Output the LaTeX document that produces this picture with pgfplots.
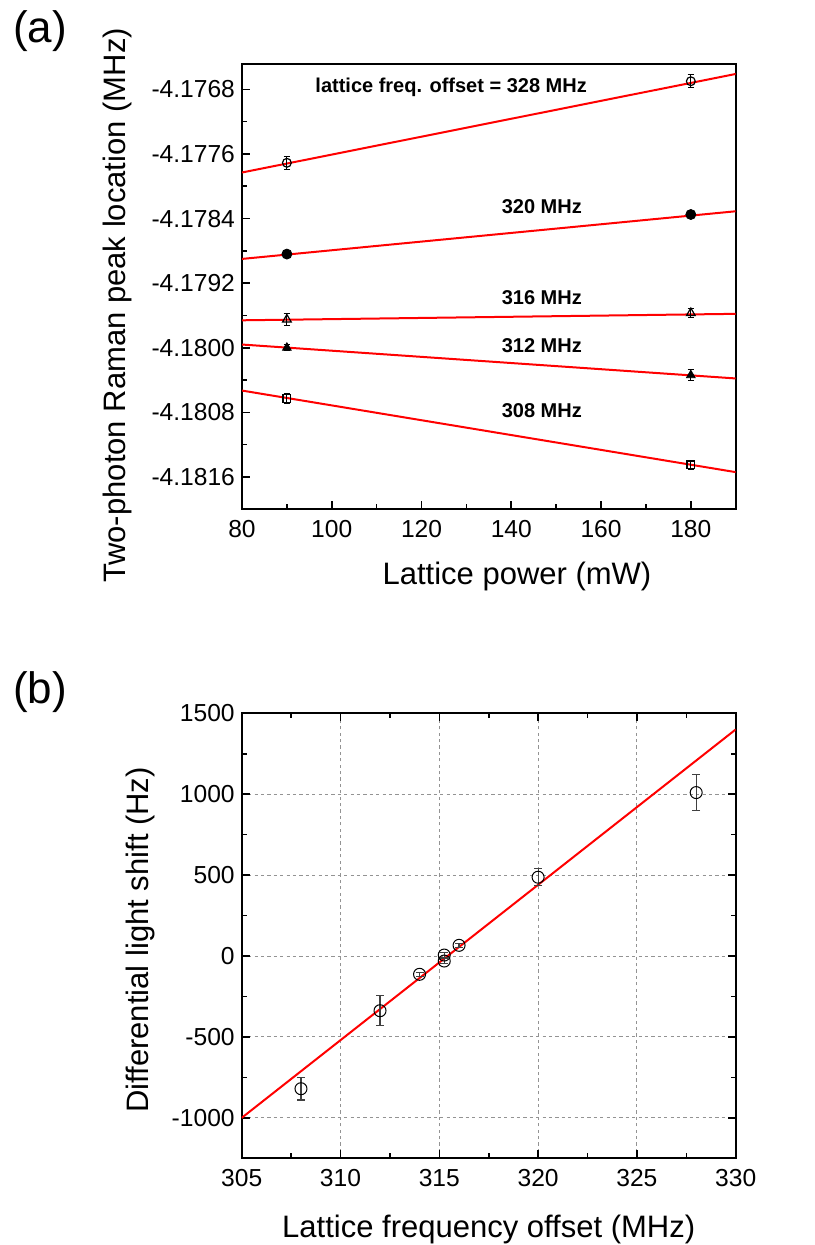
\documentclass[border=0pt]{standalone}
\usepackage{pgfplots}
\pgfplotsset{compat=1.18}
\usepackage{fontspec}
\setmainfont{Liberation Sans}
\begin{document}
\begin{tikzpicture}
\path[use as bounding box] (0,0) rectangle (407pt,622.5pt);
\pgfplotsset{
  myaxis/.style={
    scale only axis,
    axis line style={line width=0.9pt},
    tick align=inside,
    major tick length=4pt,
    minor tick length=2.5pt,
    every tick/.style={black, line width=0.8pt},
    tick label style={font=\fontsize{12.3}{14}\selectfont},
    xticklabel style={yshift=-2pt},
    label style={font=\fontsize{15.5}{18}\selectfont},
  },
  ebar/.style={error bars/.cd, y dir=both, y explicit,
    error bar style={line width=0.5pt, black},
    error mark options={rotate=90, mark size=1.6pt, line width=0.5pt, black}},
}
% ---------------- panel (a) ----------------
\begin{axis}[myaxis,
  at={(121pt,367.85pt)}, anchor=south west,
  width=246.85pt, height=222.5pt,
  xmin=80, xmax=190, ymin=-4.1820, ymax=-4.17649,
  xtick={80,100,120,140,160,180},
  xticklabels={80,100,120,140,160,180},
  minor xtick={90,110,130,150,170},
  ytick={-4.1816,-4.1808,-4.1800,-4.1792,-4.1784,-4.1776,-4.1768},
  yticklabels={-4.1816,-4.1808,-4.1800,-4.1792,-4.1784,-4.1776,-4.1768},
  minor ytick={-4.1812,-4.1804,-4.1796,-4.1788,-4.1780,-4.1772},
  xtick pos=left, ytick pos=left,
  xlabel={Lattice power (mW)},
  ylabel={Two-photon Raman peak location (MHz)},
  xlabel style={at={(axis description cs:0.557,-0.1701)}, anchor=base},
  ylabel style={at={(axis description cs:-0.2532,0.458)}, anchor=center},
]
% fit lines
\addplot[red, line width=1pt] coordinates {(80,-4.17783) (190,-4.17661)};
\addplot[red, line width=1pt] coordinates {(80,-4.17890) (190,-4.17831)};
\addplot[red, line width=1pt] coordinates {(80,-4.17966) (190,-4.17958)};
\addplot[red, line width=1pt] coordinates {(80,-4.17996) (190,-4.18038)};
\addplot[red, line width=1pt] coordinates {(80,-4.18053) (190,-4.18154)};
% data
\addplot[only marks, mark=o, mark size=2.2pt, black, mark options={line width=0.6pt}, ebar]
  coordinates {(90,-4.17771) +- (0,0.00008) (180,-4.17670) +- (0,0.00008)};
\addplot[only marks, mark=*, mark size=2.5pt, black, ebar]
  coordinates {(90,-4.17884) +- (0,0.00002) (180,-4.17835) +- (0,0.00002)};
\addplot[only marks, mark=triangle, mark size=2.5pt, black, mark options={line width=0.6pt}, ebar]
  coordinates {(90,-4.17965) +- (0,0.00007) (180,-4.17957) +- (0,0.00006)};
\addplot[only marks, mark=triangle*, mark size=2.5pt, black, ebar]
  coordinates {(90,-4.18000) +- (0,0.00004) (180,-4.18034) +- (0,0.00007)};
\addplot[only marks, mark=square, mark size=1.9pt, black, mark options={line width=0.6pt}, ebar]
  coordinates {(90,-4.18063) +- (0,0.00006) (180,-4.18145) +- (0,0.00006)};
% annotations
\node[font=\bfseries\fontsize{10}{12}\selectfont] at (axis cs:126.6,-4.17678) {lattice freq. offset = 328 MHz};
\node[font=\bfseries\fontsize{10}{12}\selectfont] at (axis cs:146.8,-4.17825) {320 MHz};
\node[font=\bfseries\fontsize{10}{12}\selectfont] at (axis cs:146.8,-4.17938) {316 MHz};
\node[font=\bfseries\fontsize{10}{12}\selectfont] at (axis cs:146.8,-4.17997) {312 MHz};
\node[font=\bfseries\fontsize{10}{12}\selectfont] at (axis cs:146.8,-4.18078) {308 MHz};
\end{axis}
% ---------------- panel (b) ----------------
\begin{axis}[myaxis,
  at={(120.85pt,43.35pt)}, anchor=south west,
  width=247pt, height=222.5pt,
  xmin=305, xmax=330, ymin=-1250, ymax=1500,
  xtick={305,310,315,320,325,330},
  xticklabels={305,310,315,320,325,330},
  minor xtick={307.5,312.5,317.5,322.5,327.5},
  ytick={-1000,-500,0,500,1000,1500},
  yticklabels={-1000,-500,0,500,1000,1500},
  minor ytick={-750,-250,250,750,1250},
  grid=major,
  major grid style={gray!85, line width=0.5pt, dash pattern=on 1.6pt off 1.6pt},
  xlabel={Lattice frequency offset (MHz)},
  ylabel={Differential light shift (Hz)},
  xlabel style={at={(axis description cs:0.5,-0.1791)}, anchor=base},
  ylabel style={at={(axis description cs:-0.2059,0.4906)}, anchor=center},
]
\addplot[red, line width=1pt] coordinates {(305,-1000) (330,1400)};
\addplot[only marks, mark=o, mark size=3pt, black, mark options={fill=white, line width=0.5pt},
  error bars/.cd, y dir=both, y explicit,
  error bar style={line width=0.6pt, black!75},
  error mark options={rotate=90, mark size=2pt, line width=0.6pt, black!75}]
  coordinates {
   (308,-820) +- (0,70)
   (312,-338) +- (0,93)
   (314,-113) +- (0,12)
   (315.25,6) +- (0,15)
   (315.25,-31) +- (0,15)
   (316,66) +- (0,12)
   (320,487) +- (0,52)
   (328,1010) +- (0,113)
  };
\end{axis}
\node[font=\fontsize{22}{26}\selectfont] at (20pt,607pt) {(a)};
\node[font=\fontsize{22}{26}\selectfont] at (20pt,276.5pt) {(b)};
\end{tikzpicture}
\end{document}
